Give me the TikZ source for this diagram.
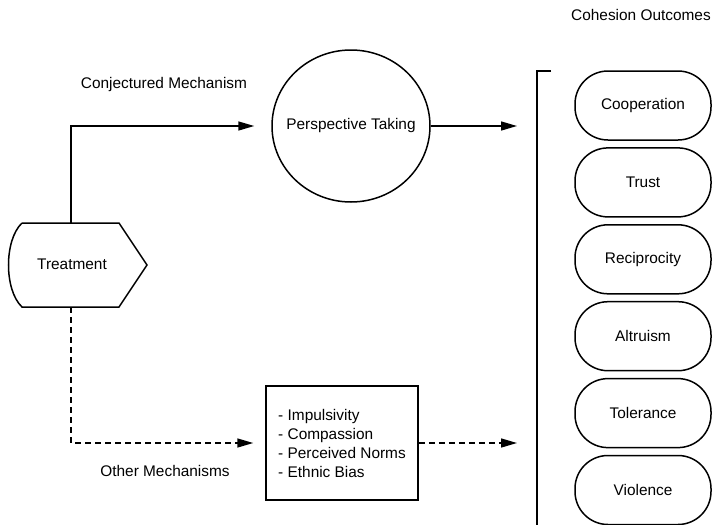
\documentclass[tikz,border=0pt]{standalone}
\usepackage{fontspec}
\setmainfont{Liberation Sans}
\usetikzlibrary{arrows.meta,shapes.geometric}

\begin{document}
\begin{tikzpicture}[x=1pt,y=-1pt,line width=1.5pt,
  font=\fontsize{15.4}{19}\selectfont,
  arr/.style={-{Triangle[length=16pt,width=9pt]}},
  dsh/.style={dash pattern=on 6pt off 4pt},
  outcome/.style={draw,rounded corners=33pt,minimum width=136pt,minimum height=69pt,inner sep=0pt}]
  \useasboundingbox (0,0) rectangle (713,525);
  % treatment
  \draw (22,223) -- (119,223) -- (147,265) -- (119,307) -- (22,307) .. controls (4,290) and (4,240) .. (22,223);
  \node (treat) at (72,264) {Treatment};
  \coordinate (treattop) at (71,223);
  \coordinate (treatbot) at (71,307);
  % mechanisms
  \node[draw,ellipse,inner xsep=-9pt,minimum width=158pt,minimum height=152pt] (ptake) at (351,126) {Perspective Taking};
  \node[draw,rectangle,minimum width=152pt,minimum height=114pt,align=left] (other) at (342,443)
    {- Impulsivity\\- Compassion\\- Perceived Norms\\- Ethnic Bias};
  \node (conj) at (164,85) {Conjectured Mechanism};
  \node (othlbl) at (165,471) {Other Mechanisms};
  \draw[arr,shorten >=17pt] (treattop) |- (ptake.west);
  \draw[arr,dsh,shorten >=12pt] (treatbot) |- (other.west);
  \coordinate (intop) at (517,126);
  \coordinate (inbot) at (517,443);
  \draw[arr] (ptake.east) -- (intop);
  \draw[arr,dsh] (other.east) -- (inbot);
  % outcomes
  \node (cohes) at (641,15) {Cohesion Outcomes};
  \draw (551,71) -- (537,71) -- (537,530);
  \foreach \lbl [count=\i] in {Cooperation,Trust,Reciprocity,Altruism,Tolerance,Violence}{
    \node[outcome] (out\i) at (643,{105.5+76.9*(\i-1)}) {\lbl};
  }
\end{tikzpicture}
\end{document}
